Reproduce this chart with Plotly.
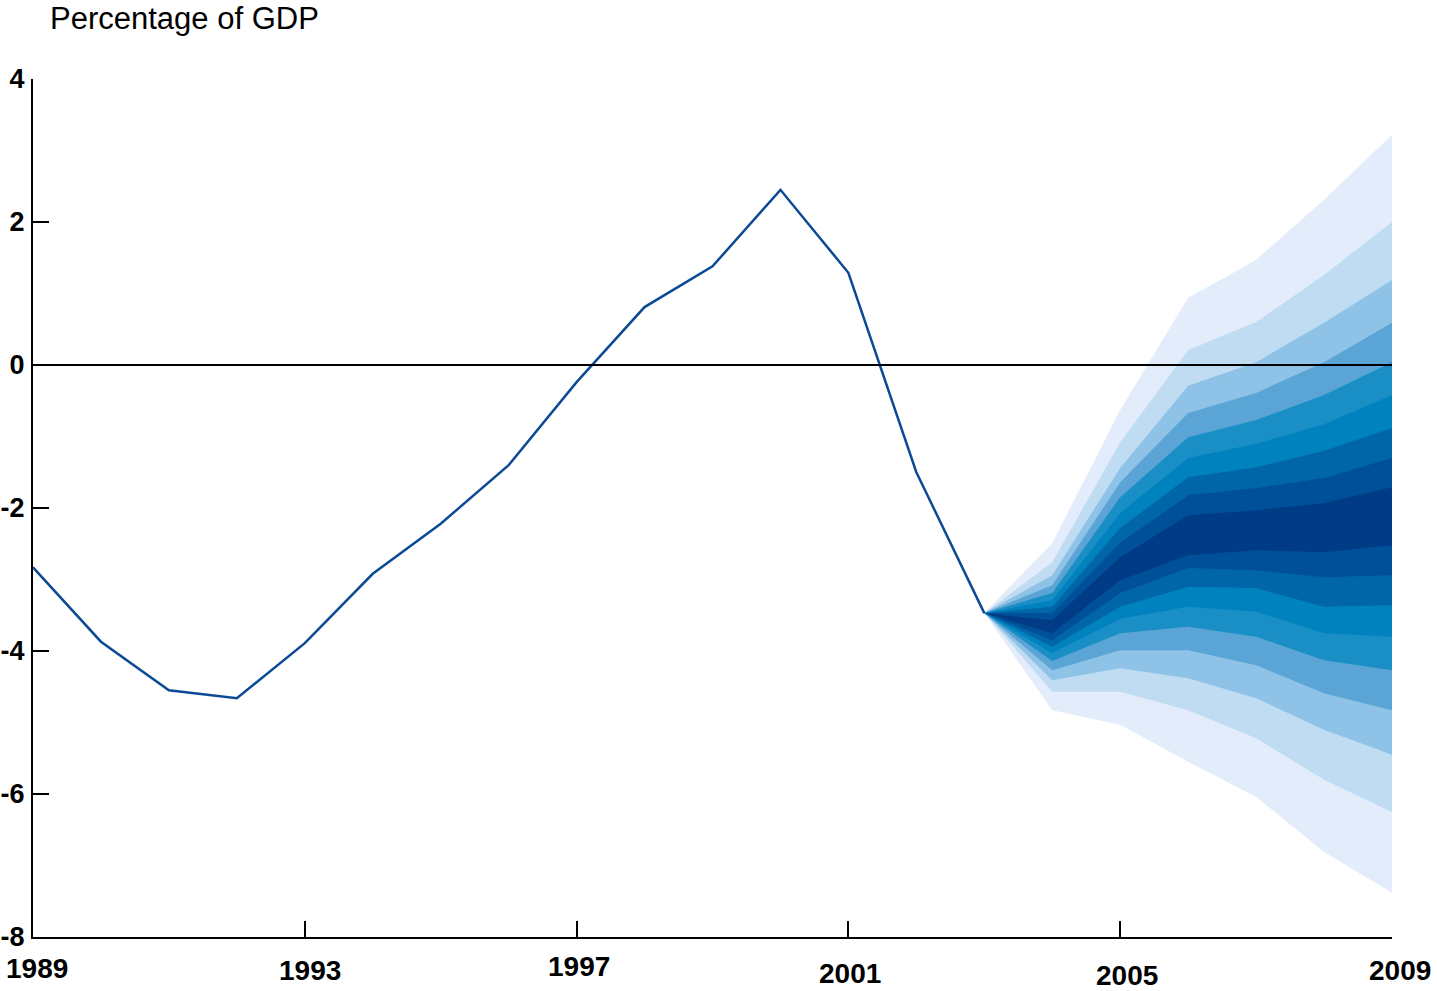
import plotly.graph_objects as go

# ---- data ----
hist_years = list(range(1989, 2004))
hist_values = [-2.83, -3.87, -4.55, -4.66, -3.89, -2.92, -2.22, -1.40, -0.24,
               0.81, 1.38, 2.45, 1.29, -1.50, -3.47]

fan_years = [2003, 2004, 2005, 2006, 2007, 2008, 2009]
# upper edges of the fan, outermost (u1) to innermost (u9)
u1 = [-3.47, -2.49, -0.63, 0.94, 1.47, 2.31, 3.22]
u2 = [-3.47, -2.76, -1.08, 0.21, 0.60, 1.26, 2.00]
u3 = [-3.47, -2.94, -1.44, -0.29, 0.04, 0.59, 1.19]
u4 = [-3.47, -3.08, -1.64, -0.67, -0.39, 0.04, 0.59]
u5 = [-3.47, -3.19, -1.85, -1.01, -0.77, -0.42, 0.04]
u6 = [-3.47, -3.29, -2.07, -1.30, -1.10, -0.83, -0.42]
u7 = [-3.47, -3.38, -2.28, -1.57, -1.43, -1.20, -0.88]
u8 = [-3.47, -3.47, -2.49, -1.82, -1.72, -1.58, -1.30]
u9 = [-3.47, -3.57, -2.69, -2.10, -2.03, -1.93, -1.71]
# lower edges of the fan, innermost (l9) to outermost (l1)
l9 = [-3.47, -3.75, -3.01, -2.66, -2.59, -2.62, -2.52]
l8 = [-3.47, -3.85, -3.19, -2.84, -2.87, -2.97, -2.94]
l7 = [-3.47, -3.94, -3.38, -3.10, -3.12, -3.38, -3.36]
l6 = [-3.47, -4.03, -3.55, -3.38, -3.45, -3.75, -3.80]
l5 = [-3.47, -4.14, -3.75, -3.66, -3.80, -4.13, -4.27]
l4 = [-3.47, -4.27, -3.99, -3.99, -4.20, -4.59, -4.83]
l3 = [-3.47, -4.41, -4.24, -4.38, -4.66, -5.10, -5.45]
l2 = [-3.47, -4.57, -4.57, -4.83, -5.22, -5.80, -6.25]
l1 = [-3.47, -4.83, -5.03, -5.55, -6.04, -6.81, -7.38]

x_tick_years = [1989, 1993, 1997, 2001, 2005, 2009]
y_tick_values = [4, 2, 0, -2, -4, -6, -8]
y_tick_labels = ["4", "2", "0", "-2", "-4", "-6", "-8"]

# ---- styles ----
band_colors = ["#E2ECFA", "#C0DCF3", "#8EC3E7", "#5AA5D5", "#1A8FC6",
               "#0082BF", "#0066A8", "#005099", "#003C86"]
x_label_shift_y = [-31, -33, -29, -36, -38, -33]
x_label_shift_x = [4, 5, 2, 2, 7, 8]

uppers = [u1, u2, u3, u4, u5, u6, u7, u8, u9]
lowers = [l1, l2, l3, l4, l5, l6, l7, l8, l9]

fig = go.Figure()

for up, lo, col in zip(uppers, lowers, band_colors):
    fig.add_trace(go.Scatter(
        x=fan_years + fan_years[::-1],
        y=up + lo[::-1],
        fill="toself", fillcolor=col, mode="lines",
        line=dict(width=0, color=col), hoverinfo="skip", showlegend=False))

fig.add_trace(go.Scatter(x=hist_years, y=hist_values, mode="lines",
                         line=dict(color="#0C4A96", width=2.5),
                         showlegend=False))

fig.add_shape(type="line", xref="paper", x0=0, x1=1, yref="y", y0=0, y1=0,
              line=dict(color="black", width=2), layer="above")

label_font = dict(family="Liberation Sans Narrow, Arial Narrow, Liberation Sans, Arial",
                  size=28, color="black")
for yr, dy, dx in zip(x_tick_years, x_label_shift_y, x_label_shift_x):
    fig.add_annotation(x=yr, xref="x", y=0, yref="paper", text="<b>%d</b>" % yr,
                       showarrow=False, xanchor="center", yanchor="middle",
                       yshift=dy, xshift=dx, font=label_font)

fig.add_annotation(x=0, xref="paper", y=1, yref="paper", text="Percentage of GDP",
                   showarrow=False, xanchor="left", yanchor="middle",
                   xshift=15, yshift=61,
                   font=dict(family="Liberation Sans, Arial", size=31, color="black"))

fig.update_layout(
    width=1437, height=991,
    template="none",
    margin=dict(l=33, r=45, t=79, b=54, autoexpand=False),
    paper_bgcolor="white", plot_bgcolor="white",
    showlegend=False,
    xaxis=dict(range=[1989, 2009], showgrid=False, zeroline=False, automargin=False,
               showline=True, linecolor="black", linewidth=2,
               ticks="inside", ticklen=16, tickwidth=2, tickcolor="black",
               tickvals=x_tick_years[1:], showticklabels=False),
    yaxis=dict(range=[-8, 4], showgrid=False, zeroline=False, automargin=False,
               showline=True, linecolor="black", linewidth=2,
               ticks="inside", ticklen=16, tickwidth=2, tickcolor="black",
               tickvals=y_tick_values, ticktext=y_tick_labels,
               ticklabelstandoff=1,
               tickfont=dict(family="Liberation Sans, Arial", size=27, color="black",
                             weight="bold")),
)

fig.write_html("out.html", config={"displayModeBar": False},
               post_script="document.body.style.margin='0';document.body.style.overflow='hidden';")
